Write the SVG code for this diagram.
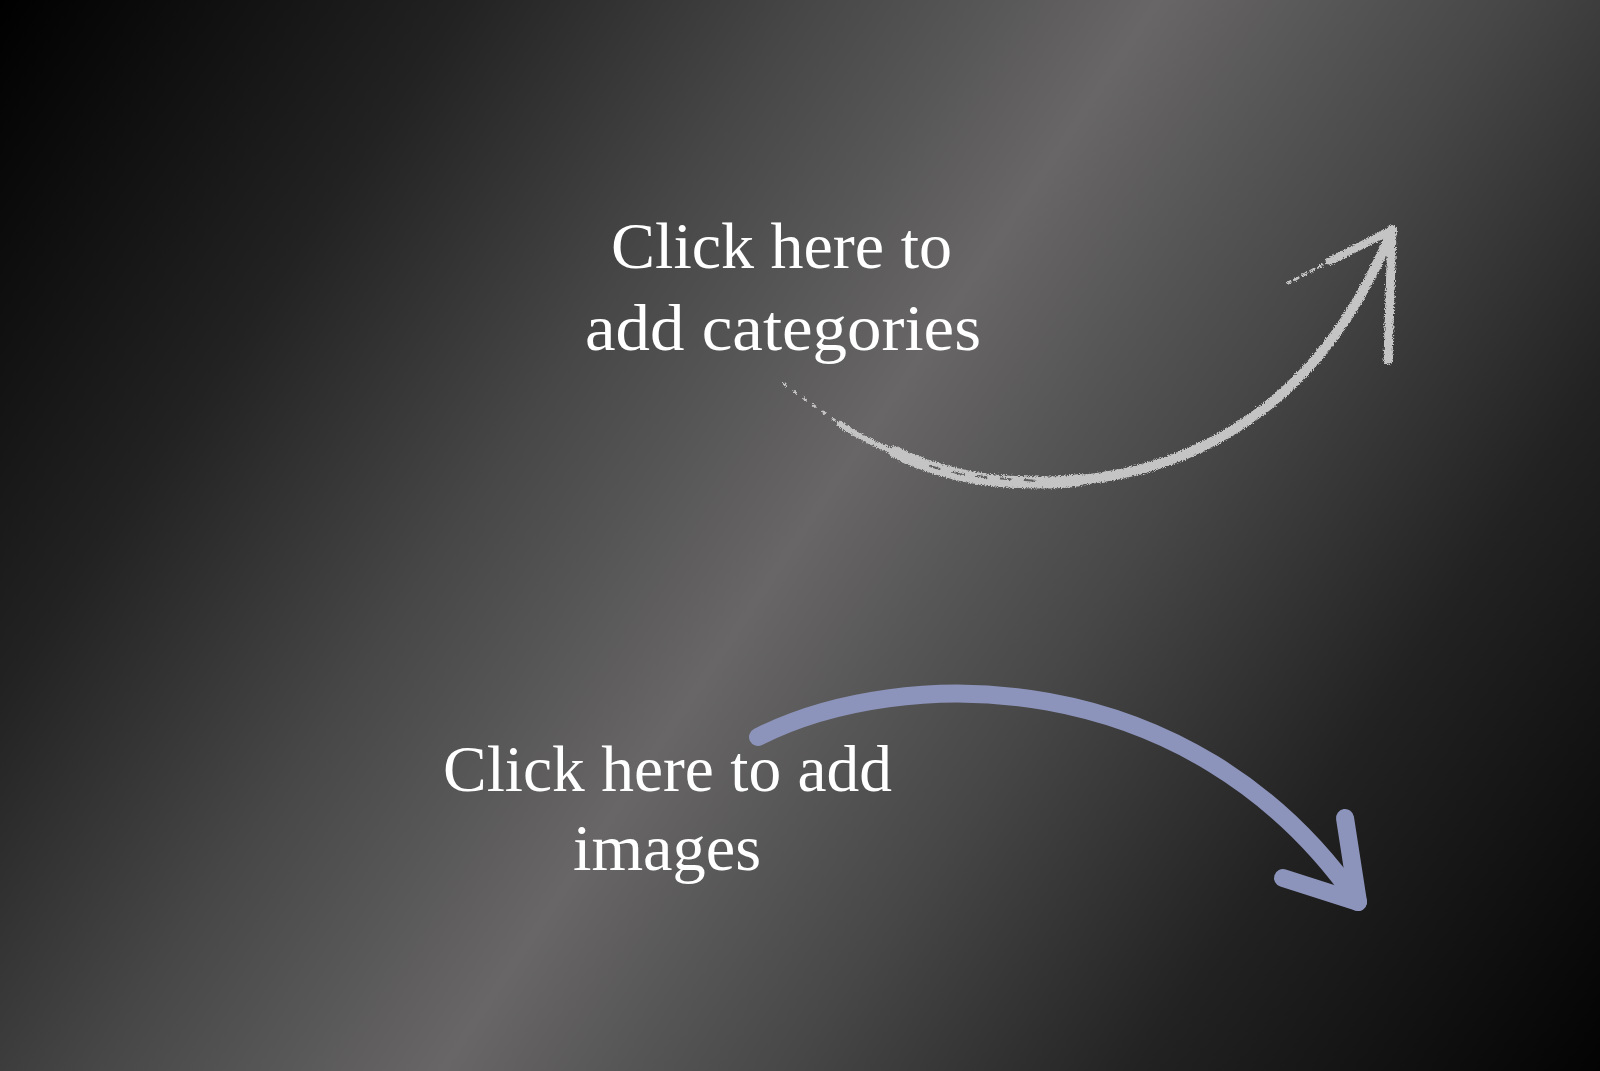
<svg xmlns="http://www.w3.org/2000/svg" width="1600" height="1071" viewBox="0 0 1600 1071">
  <defs>
    <linearGradient id="bg" gradientUnits="userSpaceOnUse" x1="0" y1="0" x2="1600" y2="1071">
      <stop offset="0" stop-color="#000000"/>
      <stop offset="0.2" stop-color="#222222"/>
      <stop offset="0.35" stop-color="#474747"/>
      <stop offset="0.5" stop-color="#686666"/>
      <stop offset="0.65" stop-color="#474747"/>
      <stop offset="0.8" stop-color="#222222"/>
      <stop offset="1" stop-color="#030303"/>
    </linearGradient>
    <filter id="chalk" x="-5%" y="-10%" width="110%" height="120%">
      <feTurbulence type="fractalNoise" baseFrequency="0.9" numOctaves="2" seed="3" result="n"/>
      <feDisplacementMap in="SourceGraphic" in2="n" scale="5" xChannelSelector="R" yChannelSelector="G"/>
    </filter>
    <style>
      .label { font-family: "Liberation Serif", "DejaVu Serif", serif; font-size: 65px; fill: #ffffff; }
      .chalk { fill: none; stroke: #c4c4c4; stroke-linecap: round; stroke-linejoin: round; }
      .gap { fill: none; stroke: #5e5e5e; stroke-linecap: round; }
      .blue { fill: none; stroke: #8d94bb; stroke-width: 18; stroke-linecap: round; stroke-linejoin: round; }
    </style>
  </defs>

  <rect id="background" x="0" y="0" width="1600" height="1071" fill="url(#bg)"/>

  <g id="label-categories">
    <text class="label" x="611" y="268" textLength="341" lengthAdjust="spacingAndGlyphs">Click here to</text>
    <text class="label" x="585" y="350" textLength="396" lengthAdjust="spacingAndGlyphs">add categories</text>
  </g>

  <g id="label-images">
    <text class="label" x="443" y="791" textLength="449" lengthAdjust="spacingAndGlyphs">Click here to add</text>
    <text class="label" x="573" y="870" textLength="188" lengthAdjust="spacingAndGlyphs">images</text>
  </g>

  <g id="connectors">
    <g id="arrow-categories" filter="url(#chalk)">
      <path class="chalk" d="M784,384 C800,396 820,410 840,424" stroke-width="2.5" stroke-dasharray="3 9"/>
      <path class="chalk" d="M840,424 C858,436 876,445 897,453" stroke-width="6" stroke-dasharray="9 5"/>
      <path class="chalk" d="M895,452 C920,465 960,478 1000,481 C1040,484 1060,483 1080,480" stroke-width="12"/>
      <path class="chalk" d="M1070,481 C1190,472 1320,410 1392,230" stroke-width="10"/>
      <path class="gap" d="M930,466 C960,476 990,478 1040,481" stroke-width="2" stroke-dasharray="10 14"/>
      <path class="chalk" d="M1392,230 L1330,261" stroke-width="8"/>
      <path class="chalk" d="M1330,261 L1288,283" stroke-width="3" stroke-dasharray="4 5"/>
      <path class="chalk" d="M1392,232 L1388,360" stroke-width="9"/>
    </g>
    <g id="arrow-images">
      <path class="blue" d="M758,737 C900,665 1190,660 1358,902"/>
      <path class="blue" d="M1345,818 L1358,902 L1283,878"/>
    </g>
  </g>
</svg>
